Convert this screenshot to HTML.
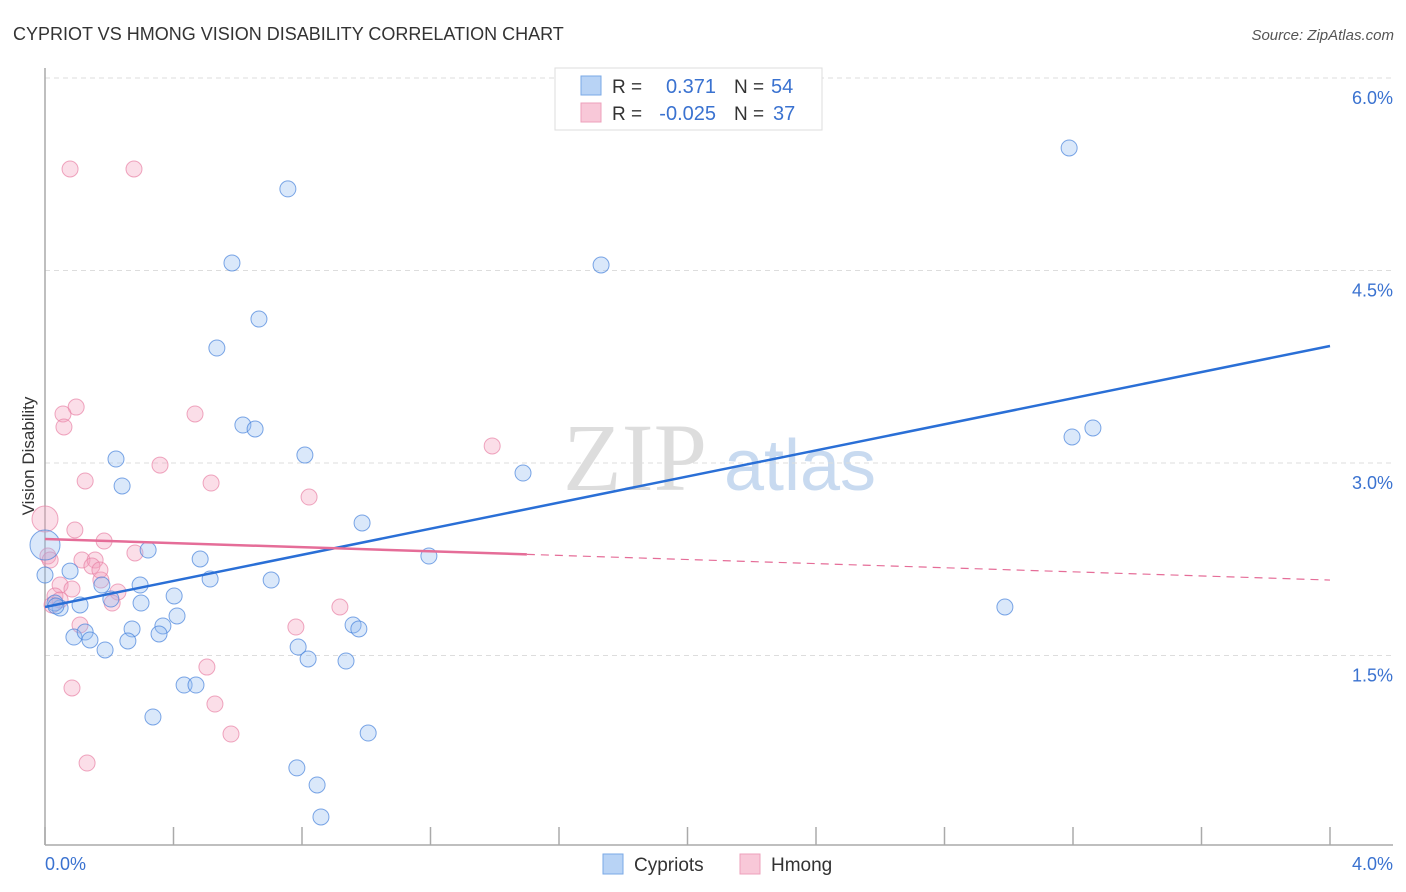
<!DOCTYPE html>
<html><head><meta charset="utf-8"><style>
body{margin:0;background:#fff;font-family:"Liberation Sans",sans-serif}
svg{display:block}
</style></head><body>
<svg id="chart" width="1406" height="892">
<text x="13" y="40" font-size="18" fill="#333">CYPRIOT VS HMONG VISION DISABILITY CORRELATION CHART</text>
<text x="1394" y="40" font-size="15" fill="#555" font-style="italic" text-anchor="end">Source: ZipAtlas.com</text>
<g>
<text x="635" y="490" font-size="96" font-family="Liberation Serif,serif" fill="#ddd" text-anchor="middle">ZIP</text>
<text x="800" y="490" font-size="72" fill="#c8daf0" text-anchor="middle">atlas</text>
</g>
<g id="grid"></g><g id="axes"></g><g id="marks"></g>
<text transform="translate(34,456) rotate(-90)" font-size="17" fill="#333" text-anchor="middle">Vision Disability</text>
<g>
<rect x="555" y="68" width="267" height="62" fill="#fff" stroke="#ddd"/>
<rect x="581" y="76" width="20" height="19" fill="#b8d3f5" stroke="#7aa8e6"/>
<rect x="581" y="103" width="20" height="19" fill="#f8c8d8" stroke="#eea0bb"/>
<text x="612" y="93" font-size="19" fill="#333">R =</text><text x="716" y="93" font-size="20" fill="#3a72d0" text-anchor="end">0.371</text>
<text x="734" y="93" font-size="19" fill="#333">N =</text><text x="771" y="93" font-size="20" fill="#3a72d0">54</text>
<text x="612" y="120" font-size="19" fill="#333">R =</text><text x="716" y="120" font-size="20" fill="#3a72d0" text-anchor="end">-0.025</text>
<text x="734" y="120" font-size="19" fill="#333">N =</text><text x="773" y="120" font-size="20" fill="#3a72d0">37</text>
</g>
<g>
<rect x="603" y="854" width="20" height="20" fill="#b8d3f5" stroke="#7aa8e6"/>
<text x="634" y="871" font-size="19" fill="#333">Cypriots</text>
<rect x="740" y="854" width="20" height="20" fill="#f8c8d8" stroke="#eea0bb"/>
<text x="771" y="871" font-size="19" fill="#333">Hmong</text>
</g>
</svg>
<script>
const blueX=[3.188,0.756,0.582,1.731,0.666,0.535,0.616,0.654,3.197,3.262,0.809,0.221,1.488,0.240,0.987,1.195,0.321,0.483,0.0,0.078,0.514,0.704,0.296,0.177,0.402,0.205,0.299,0.109,0.047,0.031,2.988,0.411,0.367,0.271,0.355,0.959,0.977,0.090,0.125,0.140,0.258,0.788,0.187,0.819,0.937,0.433,0.470,0.336,1.006,0.784,0.847,0.859,0.034,0.0];
const blueY=[5.455,5.136,4.559,4.543,4.122,3.896,3.296,3.265,3.203,3.273,3.062,3.031,2.922,2.821,2.533,2.275,2.322,2.252,2.361,2.158,2.096,2.088,2.049,2.049,1.964,1.940,1.909,1.894,1.870,1.909,1.878,1.808,1.730,1.707,1.668,1.738,1.707,1.644,1.683,1.621,1.613,1.566,1.543,1.473,1.457,1.270,1.270,1.021,0.896,0.624,0.491,0.242,1.886,2.127];
const pinkX=[0.078,0.277,0.097,0.056,0.059,0.467,1.392,0.358,0.125,0.517,0.822,0.0,0.093,0.184,0.280,0.115,0.156,0.146,0.009,0.174,0.047,0.084,0.227,0.031,0.209,0.022,0.918,0.781,0.109,0.504,0.084,0.529,0.579,0.131,0.016,0.171,0.047];
const pinkY=[5.291,5.291,3.436,3.382,3.281,3.382,3.133,2.984,2.860,2.844,2.735,2.564,2.478,2.392,2.299,2.244,2.244,2.197,2.275,2.088,2.049,2.018,1.995,1.964,1.909,1.894,1.878,1.722,1.738,1.410,1.247,1.122,0.888,0.662,2.244,2.166,1.933];
const yTicks=[1.5,3.0,4.5,6.0];
const xTickLabels=["0.0%","4.0%"];
const blueTrend=[1.878,3.912];
const pinkTrend=[2.408,2.088];
const NS="http://www.w3.org/2000/svg";
const X0=45,X1=1330,Y0=848,PPY=128.33;
const sx=v=>X0+(v/4)*(X1-X0);
const sy=v=>Y0-v*PPY;
function mk(parent,tag,attrs){const e=document.createElementNS(NS,tag);for(const k in attrs)e.setAttribute(k,attrs[k]);document.getElementById(parent).appendChild(e);return e;}
yTicks.forEach(t=>{
 const l=mk('grid','line',{x1:X0,x2:1393,y1:sy(t),y2:sy(t),stroke:'#ddd','stroke-dasharray':'5,4'});
 
 
 const tx=mk('grid','text',{x:1393,y:sy(t)+26,'font-size':18,fill:'#3a72d0','text-anchor':'end'});
 tx.textContent=t.toFixed(1)+'%';
 
 
});
let a=mk('axes','line',{x1:X0,x2:X0,y1:68,y2:845,stroke:'#aaa','stroke-width':1.5});


a=mk('axes','line',{x1:X0,x2:1393,y1:845,y2:845,stroke:'#aaa','stroke-width':1.5});


for(let i=0;i<=10;i++){
 const t=mk('axes','line',{x1:sx(i*0.4),x2:sx(i*0.4),y1:827,y2:845,stroke:'#aaa','stroke-width':1.5});
 
 
}
let xl=mk('axes','text',{x:45,y:870,'font-size':18,fill:'#3a72d0'});xl.textContent=xTickLabels[0];


xl=mk('axes','text',{x:1393,y:870,'font-size':18,fill:'#3a72d0','text-anchor':'end'});xl.textContent=xTickLabels[1];


pinkX.forEach((x,i)=>{
 const c=mk('marks','circle',{cx:sx(x),cy:sy(pinkY[i]),r:i===11?13:8,fill:'rgba(244,160,190,0.35)',stroke:'rgba(232,130,165,0.7)','stroke-width':1});
 
 
});
blueX.forEach((x,i)=>{
 const c=mk('marks','circle',{cx:sx(x),cy:sy(blueY[i]),r:i===18?15:8,fill:'rgba(150,190,240,0.35)',stroke:'rgba(70,130,220,0.7)','stroke-width':1});
 
 
});
let l=mk('marks','line',{x1:sx(0),x2:sx(4),y1:sy(blueTrend[0]),y2:sy(blueTrend[1]),stroke:'#2a6fd6','stroke-width':2.5});


const pm=v=>pinkTrend[0]+(pinkTrend[1]-pinkTrend[0])*v/4;
l=mk('marks','line',{x1:sx(0),x2:sx(1.5),y1:sy(pm(0)),y2:sy(pm(1.5)),stroke:'#e56d98','stroke-width':2.5});


l=mk('marks','line',{x1:sx(1.5),x2:sx(4),y1:sy(pm(1.5)),y2:sy(pm(4)),stroke:'#e56d98','stroke-width':1.2,'stroke-dasharray':'8,6'});


</script>
</body></html>
